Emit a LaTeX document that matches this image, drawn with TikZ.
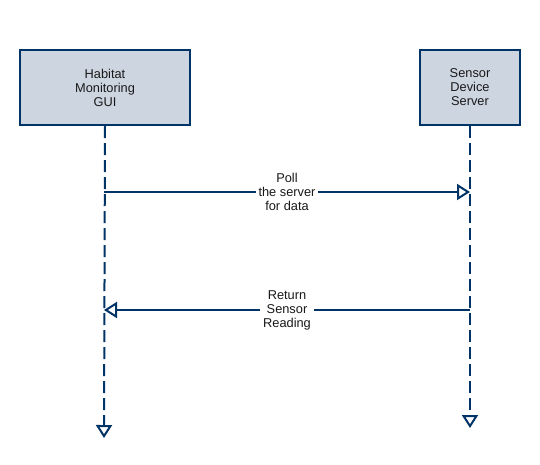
\documentclass[tikz,border=0pt]{standalone}
\usepackage{fontspec}
\setmainfont{Liberation Sans}
\usepackage{tikz}
\usetikzlibrary{arrows.meta}
\definecolor{seqblue}{RGB}{0,51,102}
\definecolor{seqfill}{RGB}{205,213,225}
\newcommand{\seqfont}{\fontsize{12.8}{14}\selectfont}
\tikzstyle{actor}=[draw=seqblue, fill=seqfill, line width=2pt, align=center, font=\seqfont, text=black!90]
\tikzstyle{lifeline}=[draw=seqblue, line width=2pt, dash pattern=on 12pt off 5pt, -{Triangle[open, length=13pt, width=16pt, line width=2pt]}]
\tikzstyle{message}=[draw=seqblue, line width=2pt, -{Triangle[open, length=13pt, width=16pt, line width=2pt]}]
\tikzstyle{msglabel}=[fill=white, align=center, font=\seqfont, text=black!90, inner sep=3pt]
\tikzstyle{sequence}=[x=1pt, y=-1pt,
                      % Keep the picture the size of the page.
                      execute at begin picture={\useasboundingbox (0, 0) rectangle (540, 464);}]

\begin{document}
\begin{tikzpicture}[sequence]
        \node[actor, minimum width=170pt, minimum height=75pt] (gui) at (105, 87.5) {Habitat\\Monitoring\\GUI};
        \node[actor, minimum width=100pt, minimum height=75pt] (server) at (470, 87.5) {Sensor\\Device\\Server};
        \coordinate (guiend) at (104, 438);
        \coordinate (serverend) at (470, 428);
        \coordinate (guipoll) at (104, 192);
        \coordinate (serverpoll) at (470, 192);
        \coordinate (guireturn) at (104, 310);
        \coordinate (serverreturn) at (470, 310);
        \draw[lifeline] (gui.south) -- (guiend);
        \draw[lifeline] (server.south) -- (serverend);
        \draw[message] (guipoll) -- (serverpoll)
            node[msglabel, pos=0.5] (poll) {Poll\\the server\\for data};
        \draw[message] (serverreturn) -- (guireturn)
            node[msglabel, pos=0.5] (return) {Return\\Sensor\\Reading};
    \end{tikzpicture}
\end{document}
